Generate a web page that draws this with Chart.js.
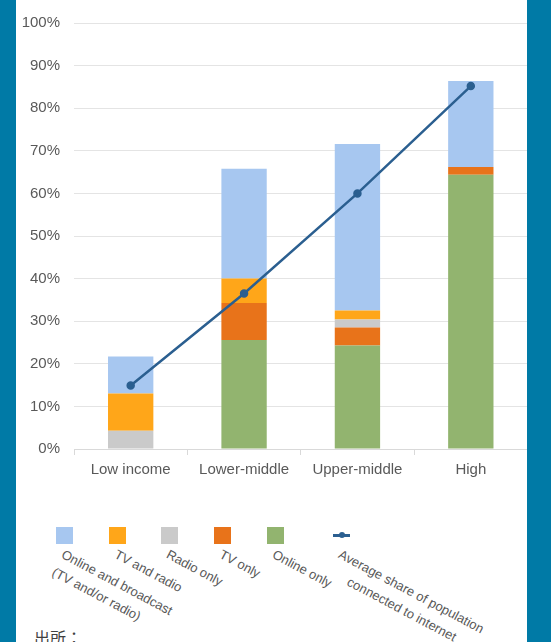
<!DOCTYPE html>
<html>
<head>
<meta charset="utf-8">
<script src="https://cdn.jsdelivr.net/npm/chart.js@4.4.1/dist/chart.umd.min.js"></script>
<style>
  html, body { margin: 0; padding: 0; }
  body { width: 558px; height: 642px; position: relative; overflow: hidden; background: #fff;
         font-family: "Liberation Sans", Arial, sans-serif; }
  .strip { position: absolute; top: 0; height: 642px; background: #007AA6; z-index: 2; }
  #wrap { position: absolute; left: 16px; top: 0; width: 518px; height: 490px; }
  .sw { position: absolute; top: 527px; width: 17px; height: 17px; }
  .lbl { position: absolute; top: 545px; font-size: 13px; line-height: 20px; color: #595959;
         white-space: pre; transform-origin: 0 0; transform: rotate(28deg); }
  #source { position: absolute; left: 34px; top: 628px; font-size: 16px; line-height: 18px; color: #404040;
            font-family: "Noto Sans CJK JP", sans-serif; }
</style>
</head>
<body>
<div class="strip" style="left:0;width:16px"></div>
<div class="strip" style="left:527px;width:24px"></div>
<div id="wrap"><canvas id="chart" width="518" height="490"></canvas></div>
<div id="legend"></div>
<div id="source">出所：</div>
<script>
// 数据（百分比）
const categories = ['Low income', 'Lower-middle', 'Upper-middle', 'High'];
const onlineOnly = [0, 25.6, 24.3, 64.4];
const tvOnly = [0, 8.7, 4.2, 1.8];
const radioOnly = [4.3, 0, 1.9, 0];
const tvAndRadio = [8.7, 5.7, 2.1, 0];
const onlineAndBroadcast = [8.7, 25.8, 39.1, 20.2];
const avgConnected = [14.9, 36.5, 60.0, 85.2];

const labelColor = '#595959';
const tickFont = { family: '"Liberation Sans", Arial, sans-serif', size: 15 };

// 堆叠顺序：自下而上
const barSets = [
  { label: 'Online only', data: onlineOnly, backgroundColor: '#92B46F' },
  { label: 'TV only', data: tvOnly, backgroundColor: '#E8731A' },
  { label: 'Radio only', data: radioOnly, backgroundColor: '#CACACA' },
  { label: 'TV and radio', data: tvAndRadio, backgroundColor: '#FFA619' },
  { label: 'Online and broadcast\n(TV and/or radio)', data: onlineAndBroadcast, backgroundColor: '#A7C7F0' }
].map(d => Object.assign(d, { type: 'bar', order: 1, barPercentage: 0.4, categoryPercentage: 1 }));

const lineSet = {
  type: 'line',
  label: 'Average share of population\nconnected to internet',
  data: avgConnected,
  stack: 'avg',
  order: 0,
  borderColor: '#2B5F90',
  backgroundColor: '#2B5F90',
  borderWidth: 2.5,
  pointRadius: 3,
  pointBackgroundColor: '#2B5F90',
  tension: 0
};

const chart = new Chart(document.getElementById('chart').getContext('2d'), {
  data: { labels: categories, datasets: [...barSets, lineSet] },
  options: {
    responsive: false,
    animation: false,
    layout: { padding: { top: 21, right: 0, bottom: 0, left: 0 } },
    plugins: { legend: { display: false }, tooltip: { enabled: false } },
    scales: {
      x: {
        stacked: true,
        grid: { drawOnChartArea: false, tickLength: 6, color: '#D9D9D9', offset: true },
        border: { color: '#D9D9D9' },
        ticks: { color: labelColor, font: tickFont, padding: 6 },
        afterFit: s => { s.height = 41; }
      },
      y: {
        stacked: true,
        min: 0,
        max: 100,
        grid: { color: '#E4E4E4', drawTicks: false },
        border: { display: false },
        ticks: { stepSize: 10, color: labelColor, font: tickFont, padding: 14, callback: v => v + '%' },
        afterFit: s => { s.width = 58; }
      }
    }
  }
});

// 图例（旋转文字），顺序与原图一致
const legendItems = [barSets[4], barSets[3], barSets[2], barSets[1], barSets[0], lineSet];
const slotX = [56, 109, 161, 214, 267, 333];
const legend = document.getElementById('legend');
legendItems.forEach((ds, i) => {
  const sw = document.createElement('div');
  sw.className = 'sw';
  sw.style.left = slotX[i] + 'px';
  if (ds.type === 'line') {
    sw.innerHTML = '<div style="position:absolute;left:0;top:7px;width:17px;height:2.5px;background:' + ds.borderColor + '"></div>' +
      '<div style="position:absolute;left:6px;top:5px;width:6px;height:6px;border-radius:3px;background:' + ds.borderColor + '"></div>';
  } else {
    sw.style.background = ds.backgroundColor;
  }
  legend.appendChild(sw);
  const lb = document.createElement('div');
  lb.className = 'lbl';
  lb.textContent = ds.label;
  lb.style.left = (slotX[i] + 11) + 'px';
  if (ds.type === 'line') lb.style.textAlign = 'center';
  legend.appendChild(lb);
});
</script>
</body>
</html>
